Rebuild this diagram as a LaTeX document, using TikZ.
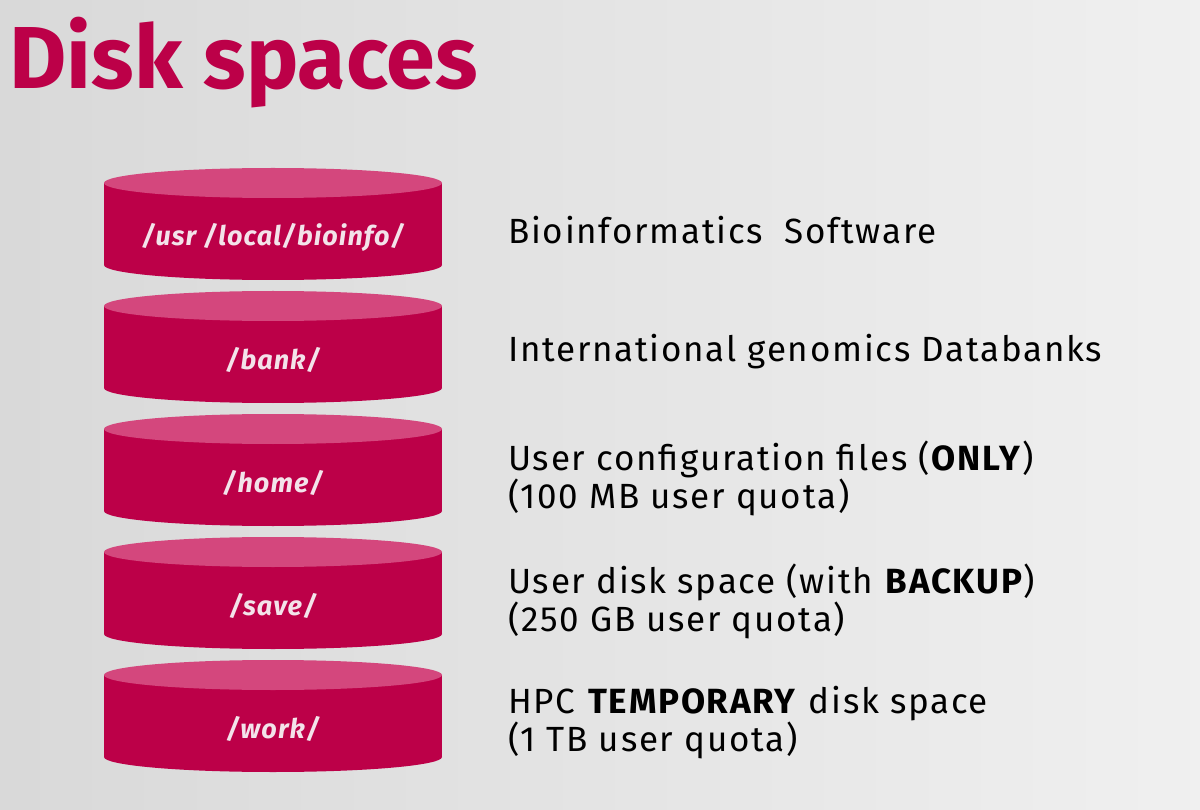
\documentclass[tikz,border=0pt]{standalone}
\usepackage{fontspec}
\setmainfont{Fira Sans}
\newfontfamily\infofont[LetterSpace=5]{Fira Sans}
\newfontfamily\diskfont[LetterSpace=4]{Fira Sans}
\usetikzlibrary{positioning}
\definecolor{crimson}{HTML}{BC0048}
\definecolor{disktop}{HTML}{D4477D}
\definecolor{disklabel}{HTML}{F3E3EA}
\tikzset{
  disklabel/.style={text=disklabel, font=\diskfont\fontsize{27}{29}\selectfont\bfseries\itshape},
  infotext/.style={anchor=west, align=left, inner sep=0pt, font=\infofont\fontsize{35}{38}\selectfont},
}
\begin{document}
\begin{tikzpicture}[x=1pt,y=-1pt]
    \useasboundingbox (0,0) rectangle (1200,810);
      \shade[left color=black!15, right color=black!6] (0,0) rectangle (1200,810);
      \node[anchor=base west, text=crimson, font=\fontsize{88}{92}\selectfont\bfseries] (title) at (6,89) {Disk spaces};
      \foreach \n/\t/\lab in {usr/168/{/usr /local/bioinfo/}, bank/291/{/bank/}, home/414/{/home/}, save/537/{/save/}, work/660/{/work/}} {
        \fill[crimson] (273,\t+97) ellipse (169 and 15);
        \fill[crimson] (104,\t+15) rectangle (442,\t+97);
        \fill[disktop] (273,\t+15) ellipse (169 and 15);
        \node[disklabel] (\n) at (273,\t+69) {\lab};
      }
      \node[infotext] (usrinfo) at (508,230) {Bioinformatics\ \ Software};
      \node[infotext] (bankinfo) at (508,352) {International genomics Databanks};
      \node[infotext] (homeinfo) at (508,478) {User configuration files (\textbf{ONLY})\\(100 MB user quota)};
      \node[infotext] (saveinfo) at (508,601) {User disk space (with \textbf{BACKUP})\\(250 GB user quota)};
      \node[infotext] (workinfo) at (508,723) {HPC \textbf{TEMPORARY} disk space\\(1 TB user quota)};
    \end{tikzpicture}
\end{document}
